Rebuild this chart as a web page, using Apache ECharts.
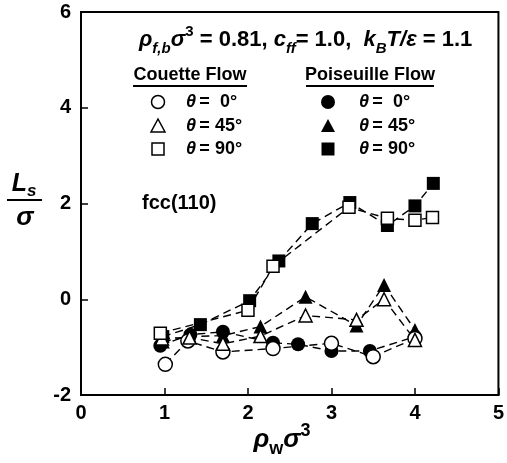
<!DOCTYPE html>
<html>
<head>
<meta charset="utf-8">
<script src="https://cdn.jsdelivr.net/npm/echarts@6/dist/echarts.min.js"></script>
<style>
html,body{margin:0;padding:0;background:#fff;}
#chart{width:507px;height:463px;}
</style>
</head>
<body>
<div id="chart"></div>
<script>
// ---- data ----
const xTicks = [0, 1, 2, 3, 4, 5];
const yTicks = [-2, 0, 2, 4, 6];
const couette0  = [[1.01,-1.36],[1.28,-0.87],[1.70,-1.10],[2.30,-1.03],[3.00,-0.92],[3.50,-1.20],[4.00,-0.82]];
const poise0    = [[0.95,-0.97],[1.31,-0.74],[1.70,-0.68],[2.30,-0.91],[2.60,-0.94],[3.00,-1.08],[3.46,-1.08],[4.00,-0.78]];
const couette45 = [[0.97,-0.82],[1.30,-0.80],[1.70,-0.93],[2.15,-0.77],[2.69,-0.34],[3.30,-0.43],[3.63,0.00],[4.00,-0.85]];
const poise45   = [[0.98,-0.88],[1.30,-0.78],[1.70,-0.76],[2.15,-0.57],[2.69,0.05],[3.30,-0.55],[3.63,0.30],[4.00,-0.64]];
const couette90 = [[0.95,-0.71],[2.00,-0.23],[2.30,0.69],[3.21,1.92],[3.67,1.69],[4.00,1.65],[4.21,1.71]];
const poise90   = [[0.98,-0.78],[1.43,-0.53],[2.02,-0.03],[2.37,0.80],[2.77,1.58],[3.22,2.02],[3.67,1.54],[4.00,1.95],[4.22,2.42]];

const FONT = '"Liberation Sans", Arial, sans-serif';
const chart = echarts.init(document.getElementById('chart'), null, {renderer:'canvas'});

function mkSeries(name, data, symbol, size, open) {
  return {
    name: name, type: 'line', data: data,
    symbol: symbol, symbolSize: size, showAllSymbol: true,
    lineStyle: {color:'#000', width:1.4, type:[8,5]},
    itemStyle: open ? {color:'#fff', borderColor:'#000', borderWidth:1.5}
                    : {color:'#000', borderColor:'#000', borderWidth:0},
    emphasis: {disabled:true},
    animation: false, z: open ? 3 : 2
  };
}

function richSet(main, small, lh) {
  return {
    i:  {fontFamily:FONT, fontWeight:'bold', fontStyle:'italic', fontSize:main, lineHeight:lh, verticalAlign:'middle', color:'#000'},
    n:  {fontFamily:FONT, fontWeight:'bold', fontSize:main, lineHeight:lh, verticalAlign:'middle', color:'#000'},
    is: {fontFamily:FONT, fontWeight:'bold', fontStyle:'italic', fontSize:small, lineHeight:lh, verticalAlign:'bottom', color:'#000'},
    sb: {fontFamily:FONT, fontWeight:'bold', fontSize:small, lineHeight:lh, verticalAlign:'bottom', color:'#000'},
    sp: {fontFamily:FONT, fontWeight:'bold', fontSize:small, lineHeight:lh, verticalAlign:'top', color:'#000'}
  };
}

const legendRows = [102, 126, 149];
const cx1 = 158, cx2 = 328;
const legText = ['=  0°', '= 45°', '= 90°'];

const graphics = [
  // title
  {type:'text', x:139, y:40, style:{text:'{i|ρ}{is|f,b}{i|σ}{sp|3}{n| = 0.81, }{i|c}{is|ff}{n|= 1.0,  }{i|k}{is|B}{i|T/ε}{n| = 1.1}', verticalAlign:'middle', rich:richSet(22, 15, 32)}},
  // legend headers
  {type:'text', x:190, y:75, style:{text:'Couette Flow', fontFamily:FONT, fontWeight:'bold', fontSize:18, fill:'#000', align:'center', verticalAlign:'middle'}},
  {type:'line', shape:{x1:133, y1:86, x2:247, y2:86}, style:{stroke:'#000', lineWidth:2}},
  {type:'text', x:370, y:75, style:{text:'Poiseuille Flow', fontFamily:FONT, fontWeight:'bold', fontSize:18, fill:'#000', align:'center', verticalAlign:'middle'}},
  {type:'line', shape:{x1:306, y1:86, x2:434, y2:86}, style:{stroke:'#000', lineWidth:2}},
  // legend markers
  {type:'circle', shape:{cx:cx1, cy:legendRows[0], r:6.5}, style:{fill:'#fff', stroke:'#000', lineWidth:1.5}},
  {type:'polygon', shape:{points:[[cx1,legendRows[1]-7],[cx1-7,legendRows[1]+6],[cx1+7,legendRows[1]+6]]}, style:{fill:'#fff', stroke:'#000', lineWidth:1.5}},
  {type:'rect', shape:{x:cx1-6, y:legendRows[2]-6, width:12, height:12}, style:{fill:'#fff', stroke:'#000', lineWidth:1.5}},
  {type:'circle', shape:{cx:cx2, cy:legendRows[0], r:7}, style:{fill:'#000'}},
  {type:'polygon', shape:{points:[[cx2,legendRows[1]-7],[cx2-7,legendRows[1]+6],[cx2+7,legendRows[1]+6]]}, style:{fill:'#000'}},
  {type:'rect', shape:{x:cx2-6.5, y:legendRows[2]-6.5, width:13, height:13}, style:{fill:'#000'}},
  // fcc label
  {type:'text', x:142, y:203, style:{text:'fcc(110)', fontFamily:FONT, fontWeight:'bold', fontSize:20, fill:'#000', verticalAlign:'middle'}},
  // x-axis name
  {type:'text', x:282, y:440, style:{text:'{i|ρ}{sb|w}{i|σ}{sp|3}', align:'center', verticalAlign:'middle', rich:richSet(26, 18, 36)}},
  // y-axis name (fraction)
  {type:'text', x:24, y:184, style:{text:'{i|L}{is|s}', align:'center', verticalAlign:'middle', rich:richSet(25, 17, 32)}},
  {type:'line', shape:{x1:7, y1:200, x2:42, y2:200}, style:{stroke:'#000', lineWidth:2}},
  {type:'text', x:25, y:218, style:{text:'σ', fontFamily:FONT, fontWeight:'bold', fontStyle:'italic', fontSize:26, fill:'#000', align:'center', verticalAlign:'middle'}}
];
// legend row texts
legendRows.forEach(function(y, k){
  [186, 359].forEach(function(x){
    graphics.push({type:'text', x:x, y:y, style:{text:'{t|θ} {n|' + legText[k] + '}', verticalAlign:'middle', rich:{
      t:{fontFamily:FONT, fontWeight:'bold', fontStyle:'italic', fontSize:18, color:'#000'},
      n:{fontFamily:FONT, fontWeight:'bold', fontSize:18, color:'#000'}
    }}});
  });
});

const option = {
  animation: false,
  backgroundColor: '#fff',
  grid: {left:81, top:12, right:4, bottom:68, show:true, borderColor:'#000', borderWidth:2, backgroundColor:'transparent'},
  xAxis: {
    type:'value', min:xTicks[0], max:xTicks[xTicks.length-1], interval:1,
    axisLine:{show:true, onZero:false, lineStyle:{color:'#000', width:2}},
    axisTick:{show:true, inside:true, length:7, lineStyle:{color:'#000', width:1.5}},
    axisLabel:{color:'#000', fontFamily:FONT, fontWeight:'bold', fontSize:20, margin:8},
    splitLine:{show:false}
  },
  yAxis: {
    type:'value', min:yTicks[0], max:yTicks[yTicks.length-1], interval:2,
    axisLine:{show:true, onZero:false, lineStyle:{color:'#000', width:2}},
    axisTick:{show:true, inside:true, length:7, lineStyle:{color:'#000', width:1.5}},
    axisLabel:{color:'#000', fontFamily:FONT, fontWeight:'bold', fontSize:20, margin:10},
    splitLine:{show:false}
  },
  series: [
    mkSeries('Poiseuille 0', poise0, 'circle', 14, false),
    mkSeries('Poiseuille 45', poise45, 'triangle', 14, false),
    mkSeries('Poiseuille 90', poise90, 'rect', 13, false),
    mkSeries('Couette 0', couette0, 'circle', 14, true),
    mkSeries('Couette 45', couette45, 'triangle', 13, true),
    mkSeries('Couette 90', couette90, 'rect', 12, true)
  ],
  graphic: graphics
};
chart.setOption(option);
</script>
</body>
</html>
